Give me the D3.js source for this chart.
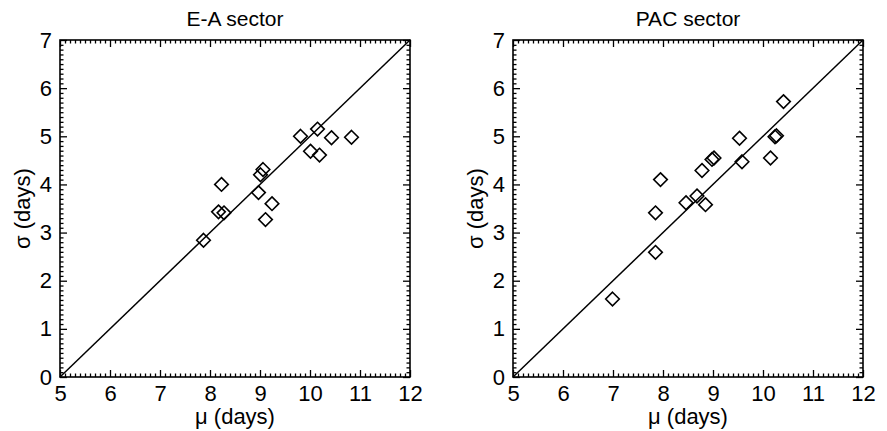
<!DOCTYPE html>
<html>
<head>
<meta charset="utf-8">
<script src="https://cdn.jsdelivr.net/npm/d3@7"></script>
<style>
  html, body { margin: 0; padding: 0; background: #fff; }
  svg text { font-family: "Liberation Sans", Arial, Helvetica, sans-serif; fill: #000; }
</style>
</head>
<body>
<svg id="chart" width="887" height="431"></svg>
<script>
// ---- data ----
const panelTitles = ["E-A sector", "PAC sector"];
const xTickValues = [5, 6, 7, 8, 9, 10, 11, 12];
const yTickValues = [0, 1, 2, 3, 4, 5, 6, 7];
const xLabel = "μ (days)";
const yLabel = "σ (days)";

const eaMu    = [7.87, 8.17, 8.28, 8.23, 8.97, 9.01, 9.06, 9.11, 9.24, 9.81, 10.01, 10.15, 10.19, 10.43, 10.83];
const eaSigma = [2.84, 3.43, 3.41, 4.00, 3.83, 4.20, 4.31, 3.27, 3.60, 5.00, 4.69, 5.15, 4.61, 4.97, 4.98];

const pacMu    = [6.99, 7.85, 7.85, 7.95, 8.46, 8.68, 8.85, 8.78, 8.98, 9.02, 9.53, 9.58, 10.15, 10.24, 10.27, 10.41];
const pacSigma = [1.62, 2.59, 3.41, 4.10, 3.62, 3.76, 3.58, 4.29, 4.52, 4.55, 4.96, 4.47, 4.55, 4.99, 5.01, 5.72];

const fitLineX = [5, 12];
const fitLineY = [0, 7];

const panels = [
  { title: panelTitles[0], mu: eaMu, sigma: eaSigma, left: 60 },
  { title: panelTitles[1], mu: pacMu, sigma: pacSigma, left: 513 }
];

// ---- layout ----
const plotW = 350, plotH = 337, plotTop = 40;
const svg = d3.select("#chart");

panels.forEach(p => {
  const g = svg.append("g").attr("transform", `translate(${p.left},${plotTop})`);
  const x = d3.scaleLinear().domain([5, 12]).range([0, plotW]);
  const y = d3.scaleLinear().domain([0, 7]).range([plotH, 0]);

  const xMinor = d3.range(50, 121).map(v => v / 10).filter(v => !xTickValues.includes(v));
  const yMinor = d3.range(0, 71).map(v => v / 10).filter(v => !yTickValues.includes(v));

  const styleAxis = sel => {
    sel.select(".domain").remove();
    sel.selectAll(".tick line").attr("stroke", "#000").attr("stroke-width", 1.3);
    sel.selectAll(".tick text").attr("font-size", 22).attr("font-family", "Liberation Sans, Arial, sans-serif").attr("fill", "#000");
  };

  // bottom
  g.append("g").attr("transform", `translate(0,${plotH})`)
    .call(d3.axisBottom(x).tickValues(xTickValues).tickSize(-7).tickPadding(8).tickFormat(d3.format("d")))
    .call(styleAxis);
  g.append("g").attr("transform", `translate(0,${plotH})`)
    .call(d3.axisBottom(x).tickValues(xMinor).tickSize(-3.5).tickFormat(""))
    .call(styleAxis);
  // top
  g.append("g")
    .call(d3.axisTop(x).tickValues(xTickValues).tickSize(-7).tickFormat(""))
    .call(styleAxis);
  g.append("g")
    .call(d3.axisTop(x).tickValues(xMinor).tickSize(-3.5).tickFormat(""))
    .call(styleAxis);
  // left
  g.append("g")
    .call(d3.axisLeft(y).tickValues(yTickValues).tickSize(-7).tickPadding(8).tickFormat(d3.format("d")))
    .call(styleAxis);
  g.append("g")
    .call(d3.axisLeft(y).tickValues(yMinor).tickSize(-3.5).tickFormat(""))
    .call(styleAxis);
  // right
  g.append("g").attr("transform", `translate(${plotW},0)`)
    .call(d3.axisRight(y).tickValues(yTickValues).tickSize(-7).tickFormat(""))
    .call(styleAxis);
  g.append("g").attr("transform", `translate(${plotW},0)`)
    .call(d3.axisRight(y).tickValues(yMinor).tickSize(-3.5).tickFormat(""))
    .call(styleAxis);

  // frame
  g.append("rect").attr("x", 0).attr("y", 0).attr("width", plotW).attr("height", plotH)
    .attr("fill", "none").attr("stroke", "#000").attr("stroke-width", 1.6);

  // 1:1 line
  const line = d3.line().x(d => x(d[0])).y(d => y(d[1]));
  g.append("path").datum(d3.zip(fitLineX, fitLineY)).attr("d", line)
    .attr("fill", "none").attr("stroke", "#000").attr("stroke-width", 1.5);

  // diamonds
  const r = 6.8;
  const diamond = `M0,${-r}L${r},0L0,${r}L${-r},0Z`;
  g.selectAll("path.pt").data(d3.zip(p.mu, p.sigma)).join("path")
    .attr("class", "pt")
    .attr("d", diamond)
    .attr("transform", d => `translate(${x(d[0])},${y(d[1])})`)
    .attr("fill", "none").attr("stroke", "#000").attr("stroke-width", 1.6);

  // title
  g.append("text").attr("x", plotW / 2).attr("y", -14).attr("text-anchor", "middle")
    .attr("font-size", 21).text(p.title);
  // x label
  g.append("text").attr("x", plotW / 2).attr("y", plotH + 47).attr("text-anchor", "middle")
    .attr("font-size", 22).text(xLabel);
  // y label
  g.append("text").attr("transform", `translate(-30,${plotH / 2}) rotate(-90)`)
    .attr("text-anchor", "middle").attr("font-size", 22).text(yLabel);
});
</script>
</body>
</html>
